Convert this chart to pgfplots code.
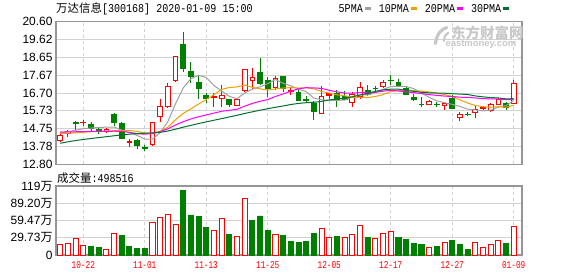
\documentclass[border=0pt]{standalone}
\usepackage{fontspec}
\setmainfont{Liberation Sans}
\newfontfamily\cjk{Noto Sans CJK SC}
\newfontfamily\mono{Liberation Mono}
\usepackage{graphicx}
\usepackage{pgfplots}
\pgfplotsset{compat=1.18}
\usepgfplotslibrary{statistics}
\usepackage{pgfplotstable}

\definecolor{kred}{RGB}{255,0,0}
\definecolor{kgreen}{RGB}{0,128,0}
\definecolor{mafive}{RGB}{160,160,160}
\definecolor{maten}{RGB}{240,160,0}
\definecolor{matwenty}{RGB}{255,0,255}
\definecolor{mathirty}{RGB}{0,112,48}
\definecolor{gridc}{RGB}{210,210,210}
\definecolor{framec}{RGB}{150,150,150}
\definecolor{wmark}{RGB}{200,200,200}

% candle: index, open, high, low, close
\newcommand{\up}[5]{\addplot[draw=kred, fill=white, line width=0.9bp, boxplot prepared={draw direction=y, draw position=#1, lower whisker=#4, lower quartile=#2, median=#2, upper quartile=#5, upper whisker=#3, box extend=0.62, whisker extend=0}] coordinates {};}
\newcommand{\upf}[5]{\addplot[draw=kred, fill=kred, line width=0.9bp, boxplot prepared={draw direction=y, draw position=#1, lower whisker=#4, lower quartile=#2, median=#2, upper quartile=#5, upper whisker=#3, box extend=0.62, whisker extend=0}] coordinates {};}
\newcommand{\dn}[5]{\addplot[draw=kgreen, fill=kgreen, line width=0.9bp, boxplot prepared={draw direction=y, draw position=#1, lower whisker=#4, lower quartile=#5, median=#5, upper quartile=#2, upper whisker=#3, box extend=0.62, whisker extend=0}] coordinates {};}

\newcommand{\xl}[1]{\scalebox{0.74}[1]{\mono\fontsize{10.5}{10.5}\selectfont #1}}
\newcommand{\ml}[1]{\scalebox{0.84}[1]{\mono\fontsize{12}{12}\selectfont #1}}
\newcommand{\wan}{{\cjk 万}}
\newcommand{\sw}[1]{\textcolor{#1}{\rule[3bp]{6bp}{2.2bp}}}

\pgfplotstableread{
i a b c d
0 14.55 14.48 14.56 13.95
1 14.58 14.50 14.57 14.03
2 14.66 14.52 14.58 14.10
3 14.75 14.55 14.59 14.16
4 14.78 14.58 14.60 14.21
5 14.82 14.60 14.60 14.26
6 14.83 14.62 14.60 14.31
7 14.84 14.64 14.61 14.36
8 14.67 14.65 14.60 14.41
9 14.53 14.65 14.55 14.45
10 14.38 14.60 14.47 14.48
11 14.18 14.51 14.45 14.50
12 14.18 14.51 14.48 14.52
13 14.53 14.60 14.58 14.55
14 15.13 14.83 14.74 14.62
15 16.11 15.24 14.95 14.72
16 16.98 15.58 15.13 14.83
17 17.48 15.83 15.28 14.93
18 17.67 16.10 15.40 15.03
19 17.55 16.34 15.50 15.12
20 17.11 16.61 15.60 15.21
21 16.81 16.90 15.70 15.30
22 16.52 17.00 15.75 15.39
23 16.39 17.03 15.81 15.48
24 16.70 17.13 15.98 15.58
25 16.91 17.01 16.13 15.67
26 17.04 16.93 16.25 15.76
27 17.21 16.86 16.34 15.84
28 17.44 16.92 16.51 15.92
29 17.23 16.97 16.65 15.99
30 17.09 17.00 16.80 16.07
31 16.91 16.97 16.93 16.13
32 16.78 16.99 16.99 16.17
33 16.42 16.93 16.98 16.19
34 16.33 16.78 16.95 16.24
35 16.30 16.70 16.85 16.32
36 16.30 16.60 16.76 16.37
37 16.31 16.55 16.70 16.41
38 16.50 16.46 16.69 16.49
39 16.60 16.47 16.72 16.59
40 16.59 16.45 16.72 16.68
41 16.72 16.51 16.74 16.79
42 16.90 16.61 16.80 16.87
43 17.05 16.78 16.85 16.91
44 17.07 16.83 16.81 16.91
45 17.06 16.83 16.76 16.84
46 16.94 16.83 16.72 16.79
47 16.69 16.80 16.67 16.74
48 16.47 16.76 16.61 16.71
49 16.27 16.67 16.57 16.70
50 16.17 16.62 16.53 16.69
51 16.08 16.51 16.51 16.66
52 15.97 16.33 16.47 16.64
53 15.82 16.15 16.46 16.62
54 15.77 16.02 16.43 16.54
55 15.72 15.95 16.39 16.49
56 15.76 15.92 16.38 16.45
57 15.93 15.95 16.37 16.43
58 16.01 15.92 16.34 16.38
59 16.29 16.03 16.35 16.39
}\matab

\begin{document}
\begin{tikzpicture}
\path[use as bounding box] (0,-276bp) rectangle (578bp,0);

% title
\node[anchor=west, inner sep=0] at (56bp,-8.7bp) {{\cjk\fontsize{11.5}{12}\selectfont 万达信息}\ml{[300168] 2020-01-09 15:00}};
% legend
\node[anchor=west, inner sep=0] at (338.5bp,-8.7bp) {\ml{5PMA}\hspace{2bp}\sw{mafive}\hspace{8bp}\ml{10PMA}\hspace{2bp}\sw{maten}\hspace{8bp}\ml{20PMA}\hspace{2bp}\sw{matwenty}\hspace{8bp}\ml{30PMA}\hspace{2bp}\sw{mathirty}};

\begin{axis}[
  at={(56bp,-164.3bp)}, anchor=south west,
  scale only axis, width=466bp, height=142.6bp,
  xmin=-0.55, xmax=60.08, ymin=12.80, ymax=20.60,
  boxplot/draw direction=y,
  axis line style={draw=framec, line width=1.3bp},
  xtick={3,11,19,27,35,43,51,59}, xticklabels={},
  ytick={12.80,13.775,14.75,15.725,16.70,17.675,18.65,19.625,20.60},
  yticklabels={12.80,13.78,14.75,15.73,16.70,17.67,18.65,19.62,20.60},
  major tick length=0pt,
  xmajorgrids, ymajorgrids,
  x grid style={draw=gridc, dash pattern=on 3bp off 3bp, line width=1bp},
  y grid style={draw=gridc, line width=1bp},
  yticklabel style={font=\fontsize{12}{12}\selectfont, text=black},
  clip=true,
]
\node[anchor=west, inner sep=0, text=wmark] at (axis cs:50.85,20.0) {\cjk\bfseries\fontsize{14.5}{14.5}\selectfont 东方财富网};
\node[anchor=west, inner sep=0, text=wmark] at (axis cs:50.1,19.36) {\bfseries\fontsize{9.5}{9.5}\selectfont eastmoney.com};
\draw[wmark, line width=3.2bp, line cap=round] (axis cs:48.8,19.4) .. controls (axis cs:49.0,19.9) and (axis cs:49.5,20.2) .. (axis cs:50.3,20.28);
\draw[wmark, line width=2.2bp, line cap=round] (axis cs:49.9,19.55) .. controls (axis cs:50.0,19.8) and (axis cs:50.2,19.95) .. (axis cs:50.5,20.0);

\up{0}{14.08}{14.58}{14.02}{14.40}
\up{1}{14.48}{14.70}{14.28}{14.60}
\dn{2}{15.08}{15.15}{14.60}{15.05}
\up{3}{15.08}{15.20}{14.90}{15.11}
\dn{4}{15.00}{15.10}{14.60}{14.75}
\dn{5}{14.70}{14.82}{14.48}{14.57}
\up{6}{14.57}{14.76}{14.50}{14.68}
\dn{7}{15.55}{15.60}{14.92}{15.11}
\dn{8}{15.05}{15.10}{14.20}{14.24}
\up{9}{14.00}{14.20}{13.75}{14.03}
\dn{10}{14.11}{14.20}{13.66}{13.84}
\dn{11}{13.72}{13.88}{13.51}{13.69}
\up{12}{13.88}{15.10}{13.85}{15.08}
\up{13}{15.41}{16.35}{15.13}{15.99}
\up{14}{15.95}{17.23}{15.86}{17.05}
\up{15}{17.36}{18.72}{17.28}{18.72}
\dn{16}{19.33}{20.02}{17.87}{18.05}
\dn{17}{17.90}{18.38}{17.23}{17.59}
\dn{18}{17.27}{17.68}{16.37}{16.96}
\dn{19}{16.59}{16.68}{16.14}{16.41}
\up{20}{16.48}{16.68}{15.95}{16.52}
\up{21}{16.41}{17.15}{15.95}{16.59}
\dn{22}{16.32}{16.34}{15.92}{16.10}
\up{23}{16.04}{16.33}{16.02}{16.32}
\up{24}{16.86}{18.00}{16.77}{17.99}
\up{25}{17.39}{18.08}{16.90}{17.54}
\dn{26}{17.80}{18.59}{17.14}{17.23}
\dn{27}{17.41}{17.59}{16.50}{16.95}
\up{28}{17.01}{17.63}{16.86}{17.50}
\dn{29}{17.63}{17.65}{16.77}{16.95}
\up{30}{16.80}{17.01}{16.59}{16.83}
\dn{31}{16.72}{16.90}{16.31}{16.31}
\dn{32}{16.33}{16.53}{16.13}{16.29}
\dn{33}{16.13}{16.28}{15.22}{15.71}
\up{34}{15.59}{17.08}{15.59}{16.50}
\upf{35}{16.55}{16.68}{16.37}{16.68}
\dn{36}{16.68}{16.86}{15.91}{16.31}
\dn{37}{16.50}{16.82}{16.35}{16.37}
\up{38}{16.19}{16.77}{15.91}{16.64}
\up{39}{16.53}{17.32}{16.35}{17.01}
\dn{40}{16.86}{17.14}{16.55}{16.64}
\dn{41}{16.95}{17.08}{16.82}{16.93}
\up{42}{17.06}{17.40}{16.98}{17.30}
\dn{43}{17.40}{17.67}{17.16}{17.38}
\dn{44}{17.26}{17.48}{17.08}{17.08}
\dn{45}{16.94}{17.03}{16.63}{16.63}
\dn{46}{16.44}{16.66}{16.30}{16.32}
\dn{47}{16.08}{16.48}{15.93}{16.06}
\up{48}{16.10}{16.30}{16.06}{16.26}
\dn{49}{16.08}{16.21}{15.93}{16.06}
\up{50}{16.02}{16.15}{15.75}{16.15}
\dn{51}{16.39}{16.61}{15.84}{15.88}
\up{52}{15.39}{15.66}{15.15}{15.51}
\dn{53}{15.53}{15.66}{15.44}{15.51}
\up{54}{15.66}{16.06}{15.33}{15.81}
\upf{55}{15.84}{15.97}{15.80}{15.90}
\up{56}{15.75}{16.17}{15.66}{16.06}
\up{57}{16.06}{16.43}{16.06}{16.35}
\dn{58}{16.15}{16.21}{15.79}{15.93}
\up{59}{16.15}{17.39}{16.12}{17.21}

\addplot[mafive, line width=1bp, no marks] table[x=i, y=a] {\matab};
\addplot[maten, line width=1bp, no marks] table[x=i, y=b] {\matab};
\addplot[matwenty, line width=1bp, no marks] table[x=i, y=c] {\matab};
\addplot[mathirty, line width=1bp, no marks] table[x=i, y=d] {\matab};
\end{axis}

\node[anchor=west, inner sep=0] at (57bp,-178bp) {{\cjk\fontsize{11.5}{12}\selectfont 成交量}\ml{:498516}};

\begin{axis}[
  at={(56bp,-255bp)}, anchor=south west,
  scale only axis, width=466bp, height=69bp,
  xmin=-0.55, xmax=60.08, ymin=0, ymax=118.93,
  axis line style={draw=framec, line width=1.3bp},
  xtick={3,11,19,27,35,43,51,59},
  xticklabels={\xl{10-22},\xl{11-01},\xl{11-13},\xl{11-25},\xl{12-05},\xl{12-17},\xl{12-27},\xl{01-09}},
  xticklabel style={text=kred, yshift=-3bp},
  ytick={0,29.73,59.47,89.20,118.93},
  yticklabels={0,29.73\wan,59.47\wan,89.20\wan,119\wan},
  major tick length=0pt,
  xmajorgrids, ymajorgrids,
  x grid style={draw=gridc, dash pattern=on 3bp off 3bp, line width=1bp},
  y grid style={draw=gridc, line width=1bp},
  yticklabel style={font=\fontsize{12}{12}\selectfont, text=black},
  clip=true,
]
\addplot[ybar, bar width=0.66, bar shift=0pt, draw=kred, fill=white, line width=0.9bp] coordinates {
(0,18.0)(1,19.7)(2,28.4)(3,16.8)(6,9.3)(7,37.1)(12,56.3)(13,65.0)(14,70.2)(15,52.8)(20,42.4)(21,63.2)(23,31.9)(24,96.9)(28,35.4)(34,45.8)(35,30.7)(37,30.2)(38,35.4)(39,51.1)(41,28.4)(42,37.1)(43,40.6)(48,12.8)(50,21.5)(54,21.5)(55,12.8)(56,18.0)(57,24.9)(59,49.85)};
\addplot[ybar, bar width=0.66, bar shift=0pt, draw=kgreen, fill=kgreen, line width=0.9bp] coordinates {
(4,15.1)(5,13.3)(8,34.2)(9,15.1)(10,11.6)(11,11.6)(16,110.8)(17,69.0)(18,65.6)(19,48.2)(22,36.0)(25,60.3)(26,67.3)(27,42.9)(29,34.2)(30,23.8)(31,22.0)(32,23.8)(33,37.7)(36,32.5)(40,30.7)(44,30.7)(45,27.3)(46,20.3)(47,18.6)(49,15.1)(51,25.5)(52,18.6)(53,9.9)(58,20.3)};
\end{axis}
\end{tikzpicture}
\end{document}
